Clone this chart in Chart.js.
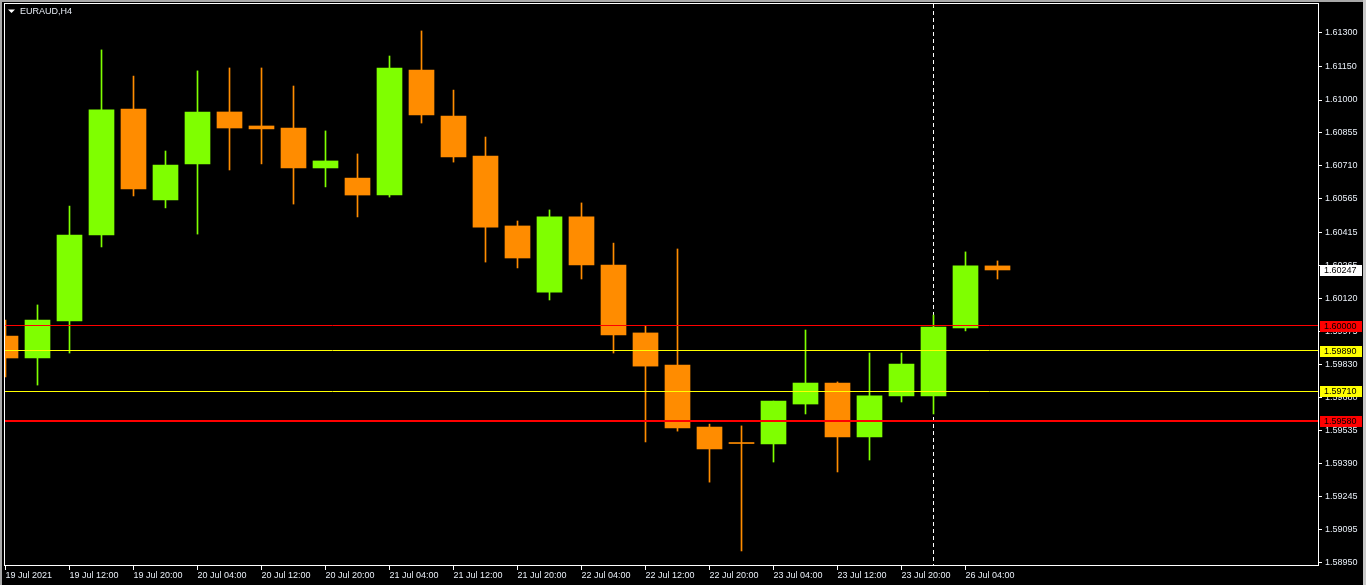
<!DOCTYPE html>
<html>
<head>
<meta charset="utf-8">
<title>EURAUD,H4</title>
<script src="https://cdn.jsdelivr.net/npm/chart.js@4.4.1/dist/chart.umd.min.js"></script>
<style>
  html, body { margin: 0; padding: 0; background: #000; overflow: hidden; }
  #wrap { width: 1366px; height: 585px; position: relative; }
</style>
</head>
<body>
<div id="wrap"><canvas id="myChart"></canvas></div>
<script>
// symbol + timeframe shown top left
const SYMBOL = "EURAUD,H4"

// time axis labels, one every 2 bars
const timeLabels = ["19 Jul 2021", "19 Jul 12:00", "19 Jul 20:00", "20 Jul 04:00", "20 Jul 12:00",
  "20 Jul 20:00", "21 Jul 04:00", "21 Jul 12:00", "21 Jul 20:00", "22 Jul 04:00", "22 Jul 12:00",
  "22 Jul 20:00", "23 Jul 04:00", "23 Jul 12:00", "23 Jul 20:00", "26 Jul 04:00"]
const labelBars = [0, 2, 4, 6, 8, 10, 12, 14, 16, 18, 20, 22, 24, 26, 28, 30]

// H4 candles, 19 Jul 04:00 -> 26 Jul 08:00
const open  = [1.59954, 1.59857, 1.60021, 1.60402, 1.60960, 1.60557, 1.60717, 1.60947, 1.60885, 1.60876,
  1.60699, 1.60654, 1.60579, 1.61133, 1.60929, 1.60752, 1.60442, 1.60149, 1.60482, 1.60269,
  1.59968, 1.59826, 1.59551, 1.59480, 1.59476, 1.59653, 1.59746, 1.59507, 1.59689, 1.59689,
  1.59990, 1.60265]
const high  = [1.60025, 1.60092, 1.60530, 1.61222, 1.61106, 1.60774, 1.61129, 1.61142, 1.61142, 1.61062,
  1.60863, 1.60761, 1.61195, 1.61306, 1.61044, 1.60836, 1.60464, 1.60513, 1.60544, 1.60366,
  1.59999, 1.60340, 1.59564, 1.59556, 1.59666, 1.59981, 1.59751, 1.59879, 1.59879, 1.60047,
  1.60327, 1.60287]
const low   = [1.59773, 1.59737, 1.59879, 1.60349, 1.60575, 1.60522, 1.60406, 1.60690, 1.60717, 1.60539,
  1.60615, 1.60482, 1.60570, 1.60898, 1.60725, 1.60282, 1.60256, 1.60114, 1.60207, 1.59879,
  1.59485, 1.59533, 1.59307, 1.59002, 1.59396, 1.59609, 1.59352, 1.59405, 1.59662, 1.59609,
  1.59977, 1.60207]
const close = [1.59857, 1.60025, 1.60402, 1.60956, 1.60606, 1.60712, 1.60947, 1.60876, 1.60872, 1.60699,
  1.60730, 1.60579, 1.61142, 1.60934, 1.60748, 1.60437, 1.60300, 1.60482, 1.60269, 1.59959,
  1.59821, 1.59547, 1.59454, 1.59478, 1.59666, 1.59746, 1.59507, 1.59689, 1.59830, 1.59994,
  1.60265, 1.60247]

// price scale ticks (mt4 rounds them oddly)
const priceTicks = [1.61300, 1.61150, 1.61000, 1.60855, 1.60710, 1.60565, 1.60415, 1.60265, 1.60120,
  1.59975, 1.59830, 1.59680, 1.59535, 1.59390, 1.59245, 1.59095, 1.58950]

// horizontal line objects
const levels = [1.60000, 1.59890, 1.59710, 1.59580]
const levelColors = ["#ff0000", "#ffff00", "#ffff00", "#ff0000"]
const levelWidths = [1, 1, 1, 2]

// weekly period separator at this bar
const separators = [29]

const BULL = "#7fff00"
const BEAR = "#ff8c00"
const FG = "#e8eef6"
const FONT = "Liberation Sans"

const bars = open.map((o, i) => i)
const colors = bars.map(i => close[i] >= open[i] ? BULL : BEAR)

function fmt(v) { return v.toFixed(5) }

const mt4Look = {
  id: "mt4Look",
  beforeDraw(chart) {
    const c = chart.ctx
    c.save()
    c.fillStyle = "#000"
    c.fillRect(0, 0, chart.width, chart.height)
    c.fillStyle = "#a8a8a8"
    c.fillRect(0, 0, 2, chart.height)
    c.fillRect(0, 0, chart.width, 2)
    c.fillStyle = "#c8c8c8"
    c.fillRect(chart.width - 3, 0, 3, chart.height)
    c.restore()
  },
  beforeDatasetsDraw(chart) {
    const c = chart.ctx, a = chart.chartArea, xs = chart.scales.x
    c.save()
    c.strokeStyle = "#ffffff"
    c.lineWidth = 1
    c.setLineDash([4, 3])
    separators.forEach(b => {
      const x = Math.round(xs.getPixelForValue(b) - 0.5) + 0.5
      c.beginPath()
      c.moveTo(x, a.top)
      c.lineTo(x, a.bottom)
      c.stroke()
    })
    c.restore()
  },
  afterDatasetsDraw(chart) {
    const c = chart.ctx, a = chart.chartArea, ys = chart.scales.y
    c.save()
    levels.forEach((lv, i) => {
      const w = levelWidths[i]
      const p = ys.getPixelForValue(lv)
      const y = w % 2 ? Math.round(p - 0.5) + 0.5 : Math.round(p)
      c.lineWidth = w
      c.strokeStyle = levelColors[i]
      c.beginPath()
      c.moveTo(a.left, y)
      c.lineTo(a.right, y)
      c.stroke()
    })
    c.restore()
  },
  afterDraw(chart) {
    const c = chart.ctx, a = chart.chartArea, ys = chart.scales.y
    c.save()
    // frame
    c.strokeStyle = "#ffffff"
    c.lineWidth = 1
    c.strokeRect(Math.round(a.left) + 0.5, Math.round(a.top) - 0.5, Math.round(a.right - a.left), Math.round(a.bottom - a.top) + 1)

    // price boxes on the axis
    c.font = "9px '" + FONT + "'"
    c.textBaseline = "middle"
    c.textAlign = "left"
    const boxes = levels.map((lv, i) => ({ v: lv, bg: levelColors[i] }))
    boxes.push({ v: close[close.length - 1], bg: "#ffffff" })
    boxes.forEach(b => {
      const y = Math.round(ys.getPixelForValue(b.v))
      c.fillStyle = b.bg
      c.fillRect(a.right + 2, y - 5, 42, 11)
      c.fillStyle = "#000"
      c.fillText(fmt(b.v), a.right + 6, y + 0.5)
    })

    // title
    c.fillStyle = "#ffffff"
    c.beginPath()
    c.moveTo(8, 9.5)
    c.lineTo(15, 9.5)
    c.lineTo(11.5, 13)
    c.closePath()
    c.fill()
    c.fillStyle = FG
    c.fillText(SYMBOL, 20, 11.5)
    c.restore()
  }
}

const ctx = document.getElementById("myChart").getContext("2d")
const chart = new Chart(ctx, {
  type: "bar",
  data: {
    datasets: [
      {
        // bodies
        data: bars.map(i => ({ x: i, y: [open[i], close[i]] })),
        backgroundColor: colors,
        borderWidth: 0,
        barThickness: 25,
        minBarLength: 1,
        grouped: false,
        order: 1
      },
      {
        // wicks
        data: bars.map(i => ({ x: i, y: [low[i], high[i]] })),
        backgroundColor: colors,
        borderWidth: 0,
        barThickness: 1,
        grouped: false,
        order: 2
      }
    ]
  },
  plugins: [mt4Look],
  options: {
    responsive: true,
    maintainAspectRatio: false,
    animation: false,
    events: [],
    layout: { padding: { left: 4, top: 4, right: 0, bottom: 0 } },
    plugins: { legend: { display: false }, tooltip: { enabled: false } },
    scales: {
      x: {
        type: "linear",
        offset: false,
        min: -1.5 / 32,
        max: -1.5 / 32 + 1314 / 32,
        grid: { display: true, drawOnChartArea: false, drawTicks: true, tickLength: 5, color: "#ffffff", offset: false },
        border: { display: false },
        afterBuildTicks: s => { s.ticks = labelBars.map(v => ({ value: v })) },
        afterFit: s => { s.height = 20; s.paddingLeft = 0; s.paddingRight = 0 },
        ticks: {
          autoSkip: false,
          maxRotation: 0,
          minRotation: 0,
          align: "start",
          padding: 0,
          color: FG,
          font: { family: FONT, size: 9 },
          callback: (v, i) => timeLabels[i]
        }
      },
      y: {
        type: "linear",
        position: "right",
        beginAtZero: false,
        min: 1.589398,
        max: 1.614254,
        grid: { display: true, drawOnChartArea: false, drawTicks: true, tickLength: 4, color: "#ffffff" },
        border: { display: false },
        afterBuildTicks: s => { s.ticks = priceTicks.map(v => ({ value: v })) },
        afterFit: s => { s.width = 48; s.paddingTop = 0; s.paddingBottom = 0 },
        ticks: {
          autoSkip: false,
          padding: 3,
          color: FG,
          font: { family: FONT, size: 9 },
          callback: v => fmt(v)
        }
      }
    }
  }
})
</script>
</body>
</html>
